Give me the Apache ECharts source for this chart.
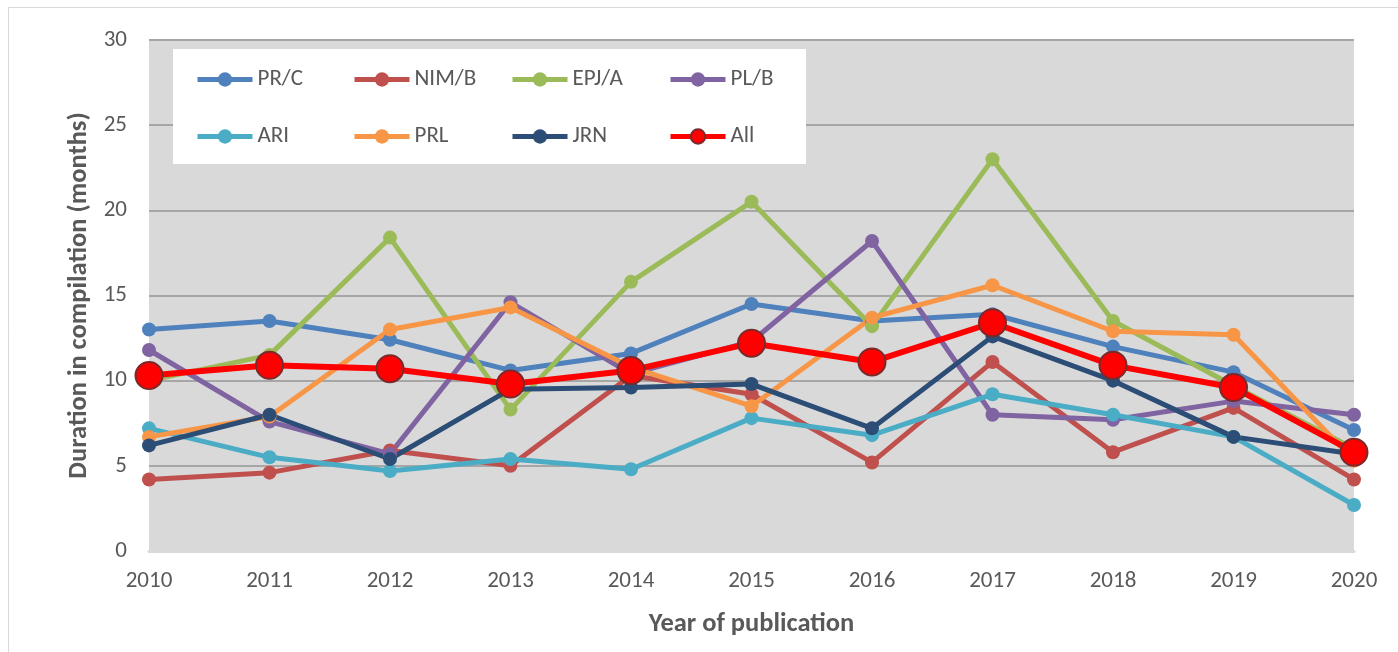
<!DOCTYPE html>
<html>
<head>
<meta charset="utf-8">
<title>Duration in compilation</title>
<script src="https://cdn.jsdelivr.net/npm/echarts@6/dist/echarts.min.js"></script>
<style>
  html, body { margin: 0; padding: 0; background: #fff; }
  #chart { width: 1398px; height: 652px; }
</style>
</head>
<body>
<div id="chart"></div>
<script>
  // years on the x axis
  var years = ['2010', '2011', '2012', '2013', '2014', '2015', '2016', '2017', '2018', '2019', '2020'];

  // duration in compilation (months)
  var prc  = [13.0, 13.5, 12.4, 10.6, 11.6, 14.5, 13.5, 13.9, 12.0, 10.5, 7.1];
  var nimb = [4.2, 4.6, 5.9, 5.0, 10.3, 9.2, 5.2, 11.1, 5.8, 8.4, 4.2];
  var epja = [10.0, 11.5, 18.4, 8.3, 15.8, 20.5, 13.2, 23.0, 13.5, 9.7, 6.0];
  var plb  = [11.8, 7.6, 5.7, 14.6, 10.4, 12.3, 18.2, 8.0, 7.7, 8.8, 8.0];
  var ari  = [7.2, 5.5, 4.7, 5.4, 4.8, 7.8, 6.8, 9.2, 8.0, 6.7, 2.7];
  var prl  = [6.7, 7.9, 13.0, 14.3, 10.8, 8.5, 13.7, 15.6, 12.9, 12.7, 5.3];
  var jrn  = [6.2, 8.0, 5.4, 9.5, 9.6, 9.8, 7.2, 12.6, 10.0, 6.7, 5.7];
  var all  = [10.3, 10.9, 10.7, 9.8, 10.6, 12.2, 11.1, 13.4, 10.9, 9.6, 5.8];

  var yTicks = [0, 5, 10, 15, 20, 25, 30];

  var names  = ['PR/C', 'NIM/B', 'EPJ/A', 'PL/B', 'ARI', 'PRL', 'JRN', 'All'];
  var colors = ['#4f81bd', '#c0504d', '#9bbb59', '#8064a2', '#4bacc6', '#f79646', '#2c4d75', '#ff0000'];
  var values = [prc, nimb, epja, plb, ari, prl, jrn, all];

  var font = 'Carlito, Lato, "Noto Sans", sans-serif';
  var txt = '#595959';

  function lineSeries(i) {
    var isAll = names[i] === 'All';
    return {
      name: names[i],
      type: 'line',
      data: values[i],
      symbol: 'circle',
      symbolSize: isAll ? 27 : 14,
      z: isAll ? 5 : 3,
      lineStyle: { color: colors[i], width: isAll ? 6 : 5 },
      itemStyle: {
        color: colors[i],
        borderColor: isAll ? '#7a2a2a' : colors[i],
        borderWidth: isAll ? 2 : 0
      },
      emphasis: { disabled: true },
      animation: false
    };
  }

  // legend: 4 columns x 2 rows, one small legend per entry so the columns line up
  var legendCols = [195, 352, 510, 668];
  var legendRows = [68, 125];

  function legendItem(i) {
    return {
      orient: 'horizontal',
      left: legendCols[i % 4],
      top: legendRows[Math.floor(i / 4)],
      padding: 0,
      itemWidth: 55,
      itemHeight: 18,
      z: 10,
      selectedMode: false,
      lineStyle: { width: 5 },
      textStyle: { color: txt, fontSize: 23, fontFamily: font },
      data: [names[i]]
    };
  }

  var chart = echarts.init(document.getElementById('chart'));
  var option = {
    backgroundColor: '#fff',
    color: colors,
    animation: false,
    graphic: [
      { type: 'rect', z: 0, silent: true,
        shape: { x: 8.5, y: 7.5, width: 1398, height: 652 },
        style: { fill: 'none', stroke: '#d9d9d9', lineWidth: 1 } },
      { type: 'rect', z: 6, silent: true,
        shape: { x: 173, y: 49, width: 633, height: 115 },
        style: { fill: '#ffffff' } }
    ],
    legend: names.map(function (n, i) { return legendItem(i); }),
    grid: {
      left: 149, right: 44, top: 40, bottom: 101,
      show: true, backgroundColor: '#d9d9d9', borderWidth: 0
    },
    xAxis: {
      type: 'category',
      data: years,
      boundaryGap: false,
      name: 'Year of publication',
      nameLocation: 'middle',
      nameGap: 60,
      nameTextStyle: { color: txt, fontSize: 26.5, fontWeight: 'bold', fontFamily: font },
      axisLine: { show: true, lineStyle: { color: '#d9d9d9', width: 3 } },
      axisTick: { show: false },
      axisLabel: { color: txt, fontSize: 23, fontFamily: font, margin: 19 },
      splitLine: { show: false }
    },
    yAxis: {
      type: 'value',
      min: yTicks[0],
      max: yTicks[yTicks.length - 1],
      interval: 5,
      name: 'Duration in compilation (months)',
      nameLocation: 'middle',
      nameGap: 56,
      nameTextStyle: { color: txt, fontSize: 26.5, fontWeight: 'bold', fontFamily: font },
      axisLine: { show: false },
      axisTick: { show: false },
      axisLabel: { color: txt, fontSize: 23, fontFamily: font, margin: 22 },
      splitLine: { show: true, lineStyle: { color: '#a6a6a6', width: 2 } }
    },
    series: names.map(function (n, i) { return lineSeries(i); })
  };
  chart.setOption(option);
</script>
</body>
</html>
